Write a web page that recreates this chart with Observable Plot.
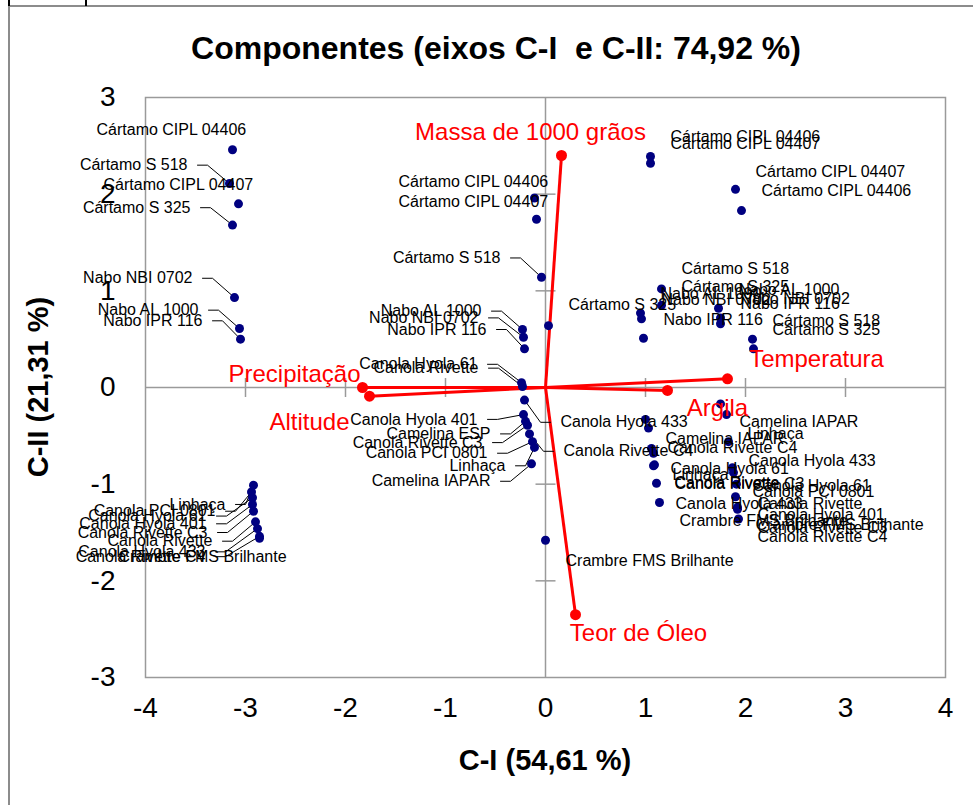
<!DOCTYPE html>
<html>
<head>
<meta charset="utf-8">
<script src="https://cdn.jsdelivr.net/npm/d3@7"></script>
<script src="https://cdn.jsdelivr.net/npm/@observablehq/plot@0.6"></script>
<style>
  html, body { margin: 0; padding: 0; background: #fff; }
  #page { position: relative; width: 973px; height: 805px; overflow: hidden; font-family: "Liberation Sans", Arial, sans-serif; }
  .edge { position: absolute; background: #8c8c8c; }
  .mark { position: absolute; background: #000; }
  #title { position: absolute; left: 0; top: 30px; width: 992px; text-align: center; font-weight: bold; font-size: 32px; line-height: 36px; color: #000; }
  #xlab { position: absolute; left: 345px; width: 400px; top: 742px; text-align: center; font-weight: bold; font-size: 29px; line-height: 36px; }
  #ylab { position: absolute; left: 38px; top: 387px; transform: translate(-50%, -50%) rotate(-90deg); white-space: nowrap; font-weight: bold; font-size: 29px; line-height: 36px; }
  #chart { position: absolute; left: 0; top: 80px; }
</style>
</head>
<body>
<div id="page">
  <div class="edge" style="left:8px;top:5px;width:965px;height:1.5px"></div>
  <div class="edge" style="left:8px;top:5px;width:1.5px;height:800px"></div>
  <div class="mark" style="left:8px;top:0;width:2px;height:6px"></div>
  <div class="mark" style="left:85px;top:0;width:2px;height:6px"></div>
  <div id="title">Componentes (eixos C-I&nbsp; e C-II: 74,92 %)</div>
  <div id="chart"></div>
  <div id="xlab">C-I (54,61 %)</div>
  <div id="ylab">C-II (21,31 %)</div>
</div>
<script>
// Genotype scores on the first two principal components, with the
// position of each data label (label text end for "L", start for "R").
const genotype = [
  "Cártamo CIPL 04406","Cártamo S 518","Cártamo CIPL 04407","Cártamo S 325","Nabo NBI 0702","Nabo AL 1000","Nabo IPR 116",
  "Cártamo CIPL 04406","Cártamo CIPL 04407","Cártamo S 518","Cártamo S 325","Nabo AL 1000","Nabo NBI 0702","Nabo IPR 116",
  "Canola Hyola 61","Canola Rivette","Canola Hyola 433","Canola Hyola 401","Camelina ESP","Canola Rivette C3","Canola Rivette C4",
  "Canola PCI 0801","Linhaça","Camelina IAPAR","Crambre FMS Brilhante",
  "Cártamo CIPL 04406","Cártamo CIPL 04407","Cártamo CIPL 04407","Cártamo CIPL 04406","Cártamo S 518","Cártamo S 325",
  "Nabo AL 1000","Nabo NBI 0702","Nabo IPR 116","Nabo AL 1000","Nabo NBI 0702","Nabo IPR 116","Cártamo S 518","Cártamo S 325",
  "Camelina IAPAR","Canola Rivette C4","Canola Hyola 61","Linhaça","Canola Rivette","Canola Rivette C3","Canola Hyola 433","Crambre FMS Brilhante",
  "Camelina IAPAR","Linhaça","Canola Hyola 433","Canola Hyola 61","Canola PCI 0801","Canola Rivette","Canola Hyola 401",
  "Crambre FMS Brilhante","Canola Rivette C3","Canola Rivette C4",
  "Linhaça","Canola PCI 0801","Canola Hyola 61","Canola Hyola 401","Canola Rivette C3","Canola Rivette","Canola Hyola 433",
  "Canola Rivette C4","Crambre FMS Brilhante"
];
const scoreC1 = [
  -3.13,-3.16,-3.07,-3.13,-3.11,-3.06,-3.05,
  -0.11,-0.09,-0.04,0.03,-0.23,-0.22,-0.21,
  -0.24,-0.23,-0.21,-0.22,-0.20,-0.18,-0.16,
  -0.13,-0.11,-0.14,0.00,
  1.05,1.05,1.90,1.96,1.16,1.16,
  0.95,0.96,0.98,1.73,1.75,1.75,2.07,2.08,
  1.00,1.03,1.06,1.08,1.08,1.09,1.11,1.14,
  1.75,1.81,1.83,1.87,1.88,1.91,1.90,
  1.92,1.92,1.93,
  -2.92,-2.94,-2.93,-2.93,-2.92,-2.90,-2.88,
  -2.86,-2.86
];
const scoreC2 = [
  2.46,2.11,1.90,1.68,0.93,0.61,0.50,
  1.96,1.74,1.14,0.64,0.60,0.52,0.40,
  0.05,0.01,-0.13,-0.28,-0.35,-0.39,-0.48,
  -0.56,-0.62,-0.79,-1.58,
  2.39,2.32,2.05,1.83,1.02,0.85,
  0.77,0.71,0.51,0.82,0.72,0.66,0.50,0.40,
  -0.33,-0.42,-0.63,-0.68,-0.81,-0.80,-0.99,-1.19,
  -0.17,-0.28,-0.56,-0.83,-0.88,-1.00,-1.13,
  -1.24,-1.26,-1.36,
  -1.01,-1.08,-1.14,-1.21,-1.28,-1.39,-1.46,
  -1.54,-1.56
];
const labelC1 = [
  -4.49,-3.58,-4.42,-3.55,-3.53,-3.47,-3.43,
  -1.47,-1.47,-0.45,0.23,-0.64,-0.67,-0.59,
  -0.68,-0.67,0.15,-0.68,-0.55,-0.63,0.18,
  -0.58,-0.40,-0.55,0.20,
  1.25,1.25,2.10,2.16,1.36,1.36,
  1.15,1.16,1.18,1.93,1.95,1.95,2.27,2.27,
  1.20,1.22,1.25,1.27,1.29,1.29,1.30,1.34,
  1.94,2.02,2.03,2.07,2.07,2.12,2.12,
  2.10,2.12,2.12,
  -3.20,-3.30,-3.39,-3.39,-3.38,-3.33,-3.40,
  -3.40,-4.27
];
const labelC2 = [
  2.67,2.30,2.10,1.86,1.13,0.80,0.69,
  2.13,1.92,1.34,0.85,0.79,0.72,0.60,
  0.24,0.20,-0.36,-0.33,-0.48,-0.57,-0.66,
  -0.68,-0.81,-0.97,-1.79,
  2.59,2.52,2.23,2.03,1.23,1.04,
  0.97,0.91,0.70,1.01,0.92,0.86,0.69,0.60,
  -0.53,-0.62,-0.84,-0.90,-0.99,-1.00,-1.20,-1.38,
  -0.36,-0.48,-0.76,-1.02,-1.08,-1.20,-1.32,
  -1.42,-1.45,-1.55,
  -1.21,-1.28,-1.33,-1.41,-1.50,-1.59,-1.70,
  -1.75,-1.75
];
const labelSide = [
  "R","L","R","L","L","L","L",
  "R","R","L","R","L","L","L",
  "L","L","R","L","L","L","R",
  "L","L","L","R",
  "R","R","R","R","R","R",
  "R","R","R","R","R","R","R","R",
  "R","R","R","R","R","R","R","R",
  "R","R","R","R","R","R","R",
  "R","R","R",
  "L","L","L","L","L","L","L",
  "L","R"
];
const hasLeader = [
  0,1,0,1,1,1,1,
  0,0,1,0,1,1,1,
  1,1,1,1,1,1,1,
  1,1,1,0,
  0,0,0,0,0,0,
  0,0,0,0,0,0,0,0,
  0,0,0,0,0,0,0,0,
  0,0,0,0,0,0,0,
  0,0,0,
  1,1,1,1,1,1,1,
  1,0
];

// Variable loadings (red vectors) and their label centres
const variable = ["Massa de 1000 grãos","Temperatura","Argila","Precipitação","Altitude","Teor de Óleo"];
const loadC1 = [0.16, 1.82, 1.22, -1.83, -1.76, 0.30];
const loadC2 = [2.40, 0.09, -0.03, 0.00, -0.09, -2.35];
const varLabC1 = [-0.15, 2.71, 1.72, -2.51, -2.36, 0.93];
const varLabC2 = [2.64, 0.29, -0.22, 0.14, -0.36, -2.54];

// Axis ticks
const xTickLabels = [-4, -3, -2, -1, 0, 1, 2, 3, 4];
const yTickLabels = [-3, -2, -1, 0, 1, 2, 3];
const xCross = [-3, -2, -1, 1, 2, 3];
const yCross = [-2, -1, 1, 2];

const geno = genotype.map((name, i) => ({
  name, x: scoreC1[i], y: scoreC2[i], lx: labelC1[i], ly: labelC2[i],
  side: labelSide[i], leader: hasLeader[i] === 1
}));
const vars = variable.map((name, i) => ({
  name, x: loadC1[i], y: loadC2[i], lx: varLabC1[i], ly: varLabC2[i]
}));

// Leader lines: short gap after the label, a short horizontal run, then to the point
const leaders = [];
geno.forEach((g, i) => {
  if (!g.leader) return;
  const dir = g.side === "L" ? 1 : -1;
  leaders.push({id: i, x: g.lx + dir * 0.10, y: g.ly});
  leaders.push({id: i, x: g.lx + dir * 0.20, y: g.ly});
  leaders.push({id: i, x: g.x, y: g.y});
});

// Small cross ticks along the zero axes
const vTick = {draw(ctx) { ctx.moveTo(0, -9.5); ctx.lineTo(0, 9.5); }};
const hTick = {draw(ctx) { ctx.moveTo(-10, 0); ctx.lineTo(10, 0); }};

const font = "'Liberation Sans', Arial, sans-serif";
const grey = "#9a9a9a";

const chart = Plot.plot({
  width: 973,
  height: 725,
  marginTop: 17,
  marginBottom: 128,
  marginLeft: 145,
  marginRight: 28,
  style: {fontFamily: font, fontSize: "28px", color: "#000", background: "transparent", overflow: "visible"},
  x: {domain: [-4, 4], label: null},
  y: {domain: [-3, 3], label: null},
  marks: [
    Plot.ruleX([0], {stroke: grey, strokeWidth: 1.5}),
    Plot.ruleY([0], {stroke: grey, strokeWidth: 1.5}),
    Plot.dot(xCross, {x: d => d, y: () => 0, symbol: vTick, fill: "none", stroke: grey, strokeWidth: 1.5}),
    Plot.dot(yCross, {x: () => 0, y: d => d, symbol: hTick, fill: "none", stroke: grey, strokeWidth: 1.5}),
    Plot.frame({stroke: grey, strokeWidth: 1.5}),
    Plot.axisX({ticks: xTickLabels, tickSize: 0, tickPadding: 20, tickFormat: d => String(d), fontSize: 28, label: null}),
    Plot.axisY({ticks: yTickLabels, tickSize: 0, tickPadding: 30, tickFormat: d => String(d), fontSize: 28, label: null}),
    Plot.link(vars, {x1: () => 0, y1: () => 0, x2: "x", y2: "y", stroke: "#ff0000", strokeWidth: 3}),
    Plot.dot(vars, {x: "x", y: "y", r: 5.5, fill: "#ff0000"}),
    Plot.line(leaders, {x: "x", y: "y", z: "id", stroke: "#000", strokeWidth: 1, curve: "linear"}),
    Plot.dot(geno, {x: "x", y: "y", r: 4.5, fill: "#000080"}),
    Plot.text(geno.filter(g => g.side === "L"), {x: "lx", y: "ly", text: "name", textAnchor: "end", fontSize: 16, fill: "#000"}),
    Plot.text(geno.filter(g => g.side === "R"), {x: "lx", y: "ly", text: "name", textAnchor: "start", fontSize: 16, fill: "#000"}),
    Plot.text(vars, {x: "lx", y: "ly", text: "name", fontSize: 24, fill: "#ff0000"})
  ]
});
document.getElementById("chart").appendChild(chart);
</script>
</body>
</html>
